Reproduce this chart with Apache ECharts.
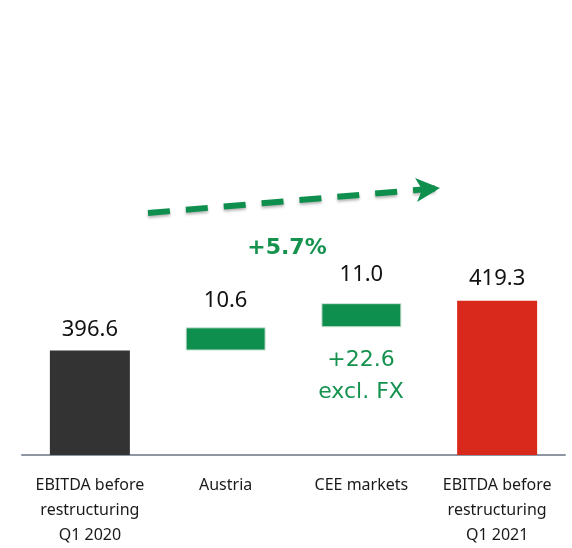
<!DOCTYPE html>
<html>
<head>
<meta charset="utf-8">
<script src="https://cdn.jsdelivr.net/npm/echarts@6/dist/echarts.min.js"></script>
<style>
  html, body { margin: 0; padding: 0; background: #fff; }
  #chart { width: 572px; height: 548px; }
</style>
</head>
<body>
<div id="chart"></div>
<script>
// 数据
const categories = ['EBITDA before\nrestructuring\nQ1 2020', 'Austria', 'CEE markets', 'EBITDA before\nrestructuring\nQ1 2021']
const barValues = [396.6, 10.6, 11.0, 419.3]
const isTotal = [true, false, false, true]
const barColors = ['#333333', '#0f8f4e', '#0f8f4e', '#d9291c']
const growthText = '+5.7%'
const ceeNote = '+22.6\nexcl. FX'

// 透明底座 (瀑布图)
const baseValues = []
let running = 0
barValues.forEach((v, i) => {
  if (isTotal[i]) { baseValues.push(0); running = v }
  else { baseValues.push(running); running += v }
})

const labelDistance = [10, 16, 17, 11]

const chart = echarts.init(document.getElementById('chart'), null, { renderer: 'canvas' })

chart.setOption({
  backgroundColor: '#fff',
  animation: false,
  grid: { left: 22, right: 7, top: 3, height: 460, containLabel: false },
  xAxis: {
    type: 'category',
    data: categories,
    axisLine: { show: true, lineStyle: { color: '#8e96a4', width: 2 } },
    axisTick: { show: false },
    axisLabel: {
      color: '#1a1a1a',
      fontFamily: 'Noto Sans',
      fontSize: 16,
      lineHeight: 25,
      margin: 18,
      interval: 0
    }
  },
  yAxis: {
    type: 'value',
    min: 349,
    max: 555,
    show: false,
    splitLine: { show: false }
  },
  series: [
    {
      type: 'bar',
      stack: 'wf',
      barWidth: 80,
      silent: true,
      itemStyle: { color: 'transparent' },
      data: baseValues
    },
    {
      type: 'bar',
      stack: 'wf',
      barWidth: 80,
      data: barValues.map((v, i) => ({
        value: v,
        itemStyle: {
          color: barColors[i],
          borderColor: isTotal[i] ? barColors[i] : '#cfe3d6',
          borderWidth: isTotal[i] ? 0 : 1
        },
        label: { distance: labelDistance[i] }
      })),
      label: {
        show: true,
        position: 'top',
        color: '#111',
        fontFamily: 'Noto Sans',
        fontSize: 22,
        formatter: p => p.value.toFixed(1)
      },
      markLine: {
        silent: true,
        symbol: ['none', 'arrow'],
        symbolSize: [18, 24],
        label: { show: false },
        lineStyle: {
          color: '#0f8f4e',
          width: 6,
          type: [22, 16],
          shadowColor: 'rgba(0,0,0,0.3)',
          shadowBlur: 3,
          shadowOffsetY: 2
        },
        data: [[{ x: 148, y: 213 }, { x: 440, y: 188 }]]
      }
    }
  ],
  graphic: [
    {
      type: 'text',
      x: 287,
      y: 248,
      style: {
        text: growthText,
        fill: '#16924f',
        font: 'bold 22px "DejaVu Sans"',
        align: 'center',
        verticalAlign: 'middle'
      }
    },
    {
      type: 'text',
      x: 361,
      y: 376,
      style: {
        text: ceeNote,
        fill: '#16924f',
        font: '22px "DejaVu Sans"',
        lineHeight: 32,
        align: 'center',
        verticalAlign: 'middle'
      }
    }
  ]
})
</script>
</body>
</html>
